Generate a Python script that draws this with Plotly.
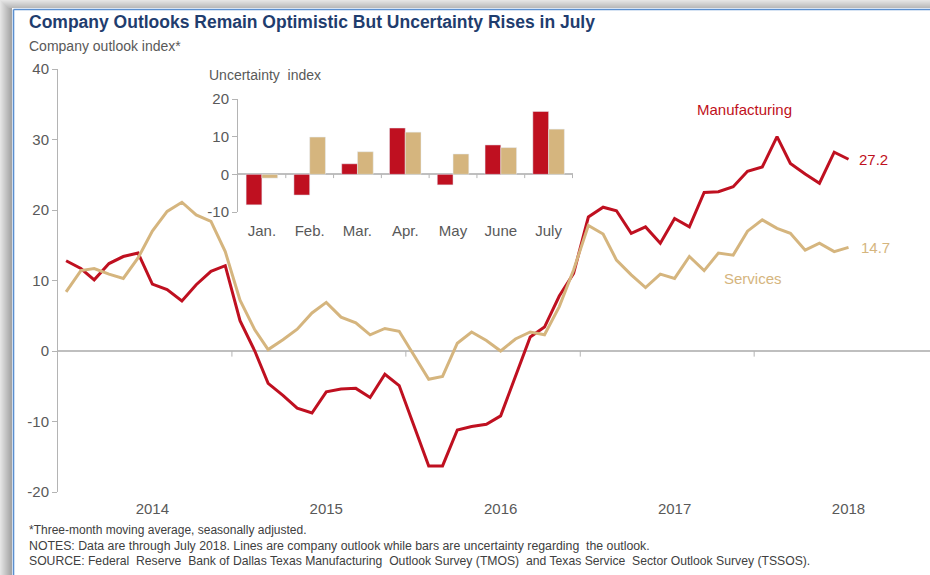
import plotly.graph_objects as go
import pandas as pd

# Monthly company outlook index (3-month moving average), Jan 2014 - Jul 2018
months = pd.date_range("2014-01-01", "2018-07-01", freq="MS")
manufacturing = [
    12.8, 11.7, 10.1, 12.4, 13.4, 13.9, 9.5, 8.7, 7.1, 9.4, 11.3, 12.1,
    4.3, 0.0, -4.6, -6.3, -8.1, -8.8, -5.8, -5.4, -5.3, -6.6, -3.3, -4.9,
    -10.6, -16.3, -16.3, -11.2, -10.7, -10.4, -9.2, -3.6, 2.0, 3.4, 7.8, 11.0,
    19.0, 20.4, 19.9, 16.7, 17.6, 15.3, 18.8, 17.6, 22.5, 22.6, 23.3, 25.5,
    26.1, 30.4, 26.6, 25.1, 23.8, 28.2, 27.2,
]
services = [
    8.4, 11.4, 11.7, 10.9, 10.3, 13.2, 17.0, 19.8, 21.1, 19.3, 18.4, 14.1,
    7.2, 3.0, 0.2, 1.6, 3.1, 5.4, 6.9, 4.8, 4.0, 2.3, 3.2, 2.8,
    -0.6, -4.0, -3.6, 1.1, 2.7, 1.5, 0.0, 1.7, 2.7, 2.3, 6.3, 11.5,
    17.8, 16.6, 12.9, 10.8, 9.0, 10.9, 10.3, 13.4, 11.4, 13.9, 13.6, 17.0,
    18.6, 17.4, 16.7, 14.3, 15.3, 14.1, 14.7,
]

# Uncertainty index, 2018
unc_months = ["Jan.", "Feb.", "Mar.", "Apr.", "May", "June", "July"]
unc_manufacturing = [-8.1, -5.5, 2.8, 12.3, -2.8, 7.8, 16.7]
unc_services = [-1.0, 9.9, 6.0, 11.2, 5.4, 7.1, 12.0]

years = [2014, 2015, 2016, 2017, 2018]
main_ticks = [-20, -10, 0, 10, 20, 30, 40]
inset_ticks = [-10, 0, 10, 20]

RED = "#BF1020"
TAN = "#D5B57E"
GREY_TXT = "#595959"
AXIS = "#B4B4B4"
SANS = "Arial, Liberation Sans, sans-serif"

W, H = 930, 575
L, R, T, B = 58, 930, 69, 492


def fx(p):
    return (p - L) / (R - L)


def fy(p):
    return (B - p) / (B - T)


fig = go.Figure()

fig.add_trace(go.Scatter(x=months, y=manufacturing, mode="lines",
                         line=dict(color=RED, width=3), name="Manufacturing",
                         hoverinfo="skip"))
fig.add_trace(go.Scatter(x=months, y=services, mode="lines",
                         line=dict(color=TAN, width=3), name="Services",
                         hoverinfo="skip"))

# inset bar chart
fig.add_trace(go.Bar(x=unc_months, y=unc_manufacturing, marker_color=RED,
                     xaxis="x2", yaxis="y2", hoverinfo="skip"))
fig.add_trace(go.Bar(x=unc_months, y=unc_services, marker_color=TAN,
                     xaxis="x2", yaxis="y2", hoverinfo="skip"))

shapes = []
# year boundary ticks on the zero line
for yr in years[:-1]:
    xd = pd.Timestamp(f"{yr}-12-15")
    shapes.append(dict(type="line", xref="x", yref="y", x0=xd, x1=xd,
                       y0=0, y1=-0.8, line=dict(color=AXIS, width=1)))
# month boundary ticks on the inset zero line
for i in range(len(unc_months)):
    shapes.append(dict(type="line", xref="x2", yref="y2", x0=i + 0.5, x1=i + 0.5,
                       y0=0, y1=-1.0, line=dict(color=AXIS, width=1)))

# frame: soft shadow strips and blue border on the top and left
shade = ["#E4E4E4", "#DEDEDE", "#D8D8D8", "#D2D2D2", "#CCCCCC", "#C6C6C6",
         "#C0C0C0", "#BABABA", "#B4B4B4", "#AEAEAE", "#A8A8A8", "#A4A4A4"]
for i, c in enumerate(shade):
    shapes.append(dict(type="rect", xref="paper", yref="paper",
                       x0=fx(i), x1=fx(i + 1), y0=fy(H), y1=fy(0),
                       line=dict(width=0), fillcolor=c, layer="below"))
for i, c in enumerate(shade[:8]):
    shapes.append(dict(type="rect", xref="paper", yref="paper",
                       x0=fx(i + 1), x1=fx(W), y0=fy(i + 1), y1=fy(i),
                       line=dict(width=0), fillcolor=c, layer="below"))
shapes.append(dict(type="line", xref="paper", yref="paper", x0=fx(13.5), x1=fx(13.5),
                   y0=fy(H), y1=fy(9.5), line=dict(color="#5B8FCF", width=1.6)))
shapes.append(dict(type="line", xref="paper", yref="paper", x0=fx(13.5), x1=fx(W),
                   y0=fy(9.5), y1=fy(9.5), line=dict(color="#5B8FCF", width=1.6)))

annotations = [
    dict(text="<b>Company Outlooks Remain Optimistic But Uncertainty Rises in July</b>",
         x=fx(27), y=fy(22), xref="paper", yref="paper", xanchor="left", yanchor="middle",
         showarrow=False, font=dict(family=SANS, size=17.5, color="#1F3D6E")),
    dict(text="Company outlook index*", x=fx(27), y=fy(46), xref="paper", yref="paper",
         xanchor="left", yanchor="middle", showarrow=False,
         font=dict(family=SANS, size=14, color=GREY_TXT)),
    dict(text="Uncertainty  index", x=fx(207), y=fy(75), xref="paper", yref="paper",
         xanchor="left", yanchor="middle", showarrow=False,
         font=dict(family=SANS, size=14, color=GREY_TXT)),
    dict(text="Manufacturing", x=fx(744), y=fy(109), xref="paper", yref="paper",
         xanchor="center", yanchor="middle", showarrow=False,
         font=dict(family=SANS, size=15, color=RED)),
    dict(text="Services", x=fx(753), y=fy(278), xref="paper", yref="paper",
         xanchor="center", yanchor="middle", showarrow=False,
         font=dict(family=SANS, size=15, color=TAN)),
    dict(text=f"{manufacturing[-1]:.1f}", x=months[-1], y=manufacturing[-1], xref="x", yref="y",
         xanchor="left", yanchor="middle", xshift=8, showarrow=False,
         font=dict(family=SANS, size=15, color=RED)),
    dict(text=f"{services[-1]:.1f}", x=months[-1], y=services[-1], xref="x", yref="y",
         xanchor="left", yanchor="middle", xshift=10, showarrow=False,
         font=dict(family=SANS, size=15, color=TAN)),
]
notes = [
    ("*Three-month moving average, seasonally adjusted.", 12),
    ("NOTES: Data are through July 2018. Lines are company outlook while bars are uncertainty regarding  the outlook.", 12.3),
    ("SOURCE: Federal  Reserve  Bank of Dallas Texas Manufacturing  Outlook Survey (TMOS)  and Texas Service  Sector Outlook Survey (TSSOS).", 12.2),
]
for yy, (t, fs) in zip([530, 546, 561], notes):
    annotations.append(dict(text=t, x=fx(27), y=fy(yy), xref="paper", yref="paper",
                            xanchor="left", yanchor="middle", showarrow=False,
                            font=dict(family=SANS, size=fs, color="#404040")))

fig.update_layout(
    width=W, height=H,
    margin=dict(l=L, r=W - R, t=T, b=H - B),
    paper_bgcolor="white", plot_bgcolor="rgba(0,0,0,0)",
    showlegend=False,
    barmode="group", bargap=0.34, bargroupgap=0.0,
    font=dict(family=SANS, color=GREY_TXT),
    xaxis=dict(type="date", range=["2013-12-15", "2018-12-19"],
               tickvals=[pd.Timestamp(f"{y}-07-01") for y in years],
               ticktext=[str(y) for y in years],
               ticks="", showline=False, showgrid=False, zeroline=False,
               ticklabelstandoff=6,
               tickfont=dict(size=15, color=GREY_TXT)),
    yaxis=dict(range=[-20, 40], tickvals=main_ticks,
               ticktext=[str(v) for v in main_ticks], showgrid=False,
               showline=True, linecolor=AXIS, linewidth=1,
               ticks="outside", ticklen=5, tickcolor=AXIS,
               zeroline=True, zerolinecolor="#BFBFBF", zerolinewidth=1.5,
               tickfont=dict(size=15, color=GREY_TXT)),
    xaxis2=dict(domain=[fx(238), fx(573)], anchor="y2", type="category",
                showline=False, ticks="", showgrid=False,
                ticklabelstandoff=8,
                tickfont=dict(size=15, color=GREY_TXT)),
    yaxis2=dict(domain=[fy(212), fy(99)], anchor="x2", range=[-10, 20],
                tickvals=inset_ticks, ticktext=[str(v) for v in inset_ticks],
                showgrid=False, showline=True, linecolor=AXIS, linewidth=1,
                ticks="outside", ticklen=5, tickcolor=AXIS,
                zeroline=True, zerolinecolor="#BFBFBF", zerolinewidth=1.5,
                tickfont=dict(size=15, color=GREY_TXT)),
    shapes=shapes,
    annotations=annotations,
)

fig.write_html("out.html")
